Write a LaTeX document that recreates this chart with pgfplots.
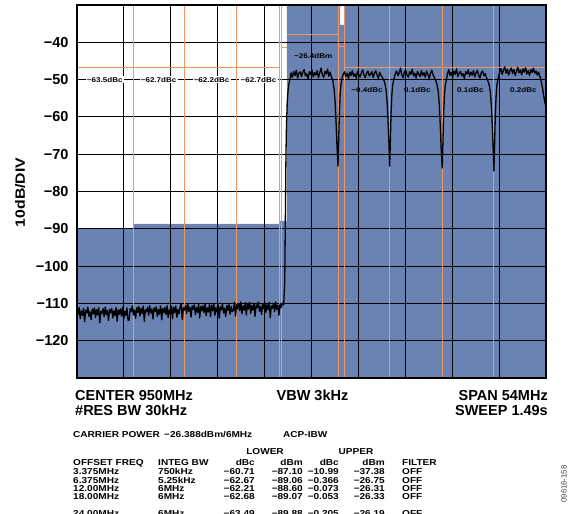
\documentclass[border=0pt]{standalone}
\usepackage{fontspec}
\setmainfont{Liberation Sans}
\newfontfamily\sfont{Liberation Sans}[FakeStretch=1.17]
\usepackage{pgfplots}
\pgfplotsset{compat=1.18}
\definecolor{sablue}{RGB}{107,131,178}
\definecolor{saorange}{RGB}{240,152,100}
\newcommand{\bigf}{\fontsize{14.5}{16}\selectfont\bfseries}
\newcommand{\tabf}{\sfont\fontsize{8.6}{10}\selectfont\bfseries}
\newcommand{\labf}{\sfont\fontsize{6.9}{8}\selectfont\bfseries}
\pgfplotsset{gl/.style={draw=black, line width=1.1pt, forget plot}, ol/.style={draw=saorange, line width=1pt, forget plot}}
\begin{document}
\begin{tikzpicture}
\path (0pt,0pt) rectangle (577pt,513pt);
\begin{axis}[
  at={(77pt,135pt)}, anchor=south west,
  scale only axis, width=469pt, height=373pt,
  xmin=923, xmax=977, ymin=-130, ymax=-30,
  axis on top,
  xtick=\empty,
  ytick={-120,-110,-100,-90,-80,-70,-60,-50,-40},
  yticklabels={−120,−110,−100,−90,−80,−70,−60,−50,−40},
  major tick length=0pt,
  axis line style={black, line width=1.3pt},
  yticklabel style={font=\bigf, xshift=-5pt},
]
% shaded channel power regions
\addplot[fill=sablue, draw=none, forget plot] coordinates {
(923,-131) (923,-89.9) (929.45,-89.9) (929.45,-88.7) (946.4,-88.7) (946.4,-87.9)
(947.15,-87.9) (947.15,-29) (953.3,-29) (953.3,-35.3) (953.8,-35.3) (953.8,-29)
(977.5,-29) (977.5,-131)};
% graticule: vertical divisions (5.4 MHz each)
\addplot[gl] coordinates {(928.4,-130) (928.4,-30)};
\addplot[gl] coordinates {(933.8,-130) (933.8,-30)};
\addplot[gl] coordinates {(939.2,-130) (939.2,-30)};
\addplot[gl] coordinates {(944.6,-130) (944.6,-30)};
\addplot[gl] coordinates {(950.0,-130) (950.0,-30)};
\addplot[gl] coordinates {(955.4,-130) (955.4,-30)};
\addplot[gl] coordinates {(960.8,-130) (960.8,-30)};
\addplot[gl] coordinates {(966.2,-130) (966.2,-30)};
\addplot[gl] coordinates {(971.6,-130) (971.6,-30)};
% graticule: horizontal divisions (10 dB each)
\addplot[gl] coordinates {(923,-40) (977,-40)};
\addplot[gl] coordinates {(923,-50) (977,-50)};
\addplot[gl] coordinates {(923,-60) (977,-60)};
\addplot[gl] coordinates {(923,-70) (977,-70)};
\addplot[gl] coordinates {(923,-80) (977,-80)};
\addplot[gl] coordinates {(923,-90) (977,-90)};
\addplot[gl] coordinates {(923,-100) (977,-100)};
\addplot[gl] coordinates {(923,-110) (977,-110)};
\addplot[gl] coordinates {(923,-120) (977,-120)};
% orange channel borders
\addplot[ol] coordinates {(929.45,-130) (929.45,-30)};
\addplot[ol] coordinates {(935.4,-130) (935.4,-30)};
\addplot[ol] coordinates {(941.4,-130) (941.4,-30)};
\addplot[ol] coordinates {(946.35,-130) (946.35,-30)};
\addplot[ol] coordinates {(946.55,-130) (946.55,-30)};
\addplot[ol] coordinates {(953.1,-130) (953.1,-30)};
\addplot[ol] coordinates {(953.8,-130) (953.8,-30)};
\addplot[ol] coordinates {(959.0,-130) (959.0,-30)};
\addplot[ol] coordinates {(965.05,-130) (965.05,-30)};
\addplot[ol] coordinates {(971.0,-130) (971.0,-30)};
\addplot[ol] coordinates {(923,-46.85) (946.35,-46.85)};
\addplot[ol] coordinates {(946.55,-41.4) (947.15,-41.4)};
\addplot[ol] coordinates {(947.15,-38.0) (953.1,-38.0)};
\addplot[ol] coordinates {(953.1,-41.1) (953.8,-41.1)};
\addplot[ol] coordinates {(953.8,-46.85) (977,-46.85)};
% measured trace
\addplot[black, line width=1.3pt, line join=round] coordinates {
(923.000,-111.4) (923.125,-112.9) (923.250,-111.1) (923.375,-114.1) (923.500,-112.0)
(923.625,-113.2) (923.750,-111.3) (923.875,-114.9) (924.000,-111.8) (924.125,-112.6)
(924.250,-111.0) (924.375,-113.5) (924.500,-112.2) (924.625,-114.4) (924.750,-111.5)
(924.875,-112.8) (925.000,-111.2) (925.125,-113.8) (925.250,-111.7) (925.375,-113.1)
(925.500,-111.1) (925.625,-115.2) (925.750,-112.1) (925.875,-112.7) (926.000,-111.4)
(926.125,-113.6) (926.250,-111.0) (926.375,-113.0) (926.500,-111.9) (926.625,-114.6)
(926.750,-111.6) (926.875,-112.5) (927.000,-111.3) (927.125,-113.9) (927.250,-112.0)
(927.375,-113.3) (927.500,-111.1) (927.625,-114.8) (927.750,-111.7) (927.875,-112.9)
(928.000,-111.5) (928.125,-113.4) (928.250,-111.0) (928.375,-114.2) (928.500,-112.1)
(928.625,-113.2) (928.750,-111.2) (928.875,-114.5)
(929.000,-114.5) (929.125,-111.4) (929.250,-112.2) (929.375,-110.6) (929.500,-113.1)
(929.625,-111.8) (929.750,-114.0) (929.875,-111.1) (930.000,-112.4) (930.125,-110.8)
(930.250,-113.4) (930.375,-111.3) (930.500,-112.7) (930.625,-110.7) (930.750,-114.8)
(930.875,-111.7) (931.000,-112.3) (931.125,-111.0) (931.250,-113.2) (931.375,-110.6)
(931.500,-112.6) (931.625,-111.5) (931.750,-114.2) (931.875,-111.2) (932.000,-112.1)
(932.125,-110.9) (932.250,-113.5) (932.375,-111.6) (932.500,-112.9) (932.625,-110.7)
(932.750,-114.4) (932.875,-111.3) (933.000,-112.5) (933.125,-111.1) (933.250,-113.0)
(933.375,-110.6) (933.500,-113.8) (933.625,-111.7) (933.750,-112.8) (933.875,-110.8)
(934.000,-114.1) (934.125,-111.0) (934.250,-112.5) (934.375,-110.7) (934.500,-113.7)
(934.625,-111.6) (934.750,-112.8) (934.875,-110.9)
(935.000,-110.2) (935.125,-114.3) (935.250,-111.2) (935.375,-111.8) (935.500,-110.5)
(935.625,-112.7) (935.750,-110.1) (935.875,-112.1) (936.000,-111.0) (936.125,-113.7)
(936.250,-110.7) (936.375,-111.6) (936.500,-110.4) (936.625,-113.0) (936.750,-111.1)
(936.875,-112.4) (937.000,-110.2) (937.125,-113.9) (937.250,-110.8) (937.375,-112.0)
(937.500,-110.6) (937.625,-112.5) (937.750,-110.1) (937.875,-113.3) (938.000,-111.2)
(938.125,-112.3) (938.250,-110.3) (938.375,-113.6) (938.500,-110.5) (938.625,-112.0)
(938.750,-110.2) (938.875,-113.2) (939.000,-111.1) (939.125,-112.3) (939.250,-110.4)
(939.375,-114.0) (939.500,-110.9) (939.625,-111.7) (939.750,-110.1) (939.875,-112.6)
(940.000,-111.3) (940.125,-113.5) (940.250,-110.6) (940.375,-111.9) (940.500,-110.3)
(940.625,-112.9) (940.750,-110.8) (940.875,-112.2)
(941.000,-111.9) (941.125,-109.7) (941.250,-113.4) (941.375,-110.3) (941.500,-111.5)
(941.625,-110.1) (941.750,-112.0) (941.875,-109.6) (942.000,-112.8) (942.125,-110.7)
(942.250,-111.8) (942.375,-109.8) (942.500,-113.1) (942.625,-110.0) (942.750,-111.5)
(942.875,-109.7) (943.000,-112.7) (943.125,-110.6) (943.250,-111.8) (943.375,-109.9)
(943.500,-113.5) (943.625,-110.4) (943.750,-111.2) (943.875,-109.6) (944.000,-112.1)
(944.125,-110.8) (944.250,-113.0) (944.375,-110.1) (944.500,-111.4) (944.625,-109.8)
(944.750,-112.4) (944.875,-110.3) (945.000,-111.7) (945.125,-109.7) (945.250,-113.8)
(945.375,-110.7) (945.500,-111.3) (945.625,-110.0) (945.750,-112.2) (945.875,-109.6)
(946.000,-111.6) (946.125,-110.5) (946.250,-113.2) (946.375,-110.2) (946.500,-111.1)
(946.625,-109.9) (946.800,-110.4)
(946.92,-104) (946.97,-92) (947.02,-80) (947.06,-70)
(947.12,-62) (947.20,-56.5) (947.30,-53) (947.42,-50.8) (947.55,-49.6)
(947.65,-48.2) (947.80,-49.4) (947.95,-47.8) (948.10,-48.9) (948.25,-47.5)
(948.40,-49.6) (948.55,-48.3) (948.70,-47.9) (948.85,-49.2) (949.00,-48.0)
(949.15,-47.3) (949.30,-49.0) (949.45,-48.4) (949.60,-49.8) (949.75,-47.9)
(949.90,-48.6) (950.05,-47.4) (950.20,-49.3) (950.35,-48.1) (950.50,-48.8)
(950.65,-47.6) (950.80,-49.5) (950.95,-48.2) (951.10,-46.9) (951.25,-48.7)
(951.40,-49.4) (951.55,-47.8) (951.70,-48.5) (951.85,-47.2) (952.00,-49.1)
(952.15,-48.0) (952.30,-49.3) (952.45,-50.2)
(952.60,-52.5) (952.72,-56) (952.82,-61) (952.92,-67) (953.05,-73.2)
(953.13,-66) (953.21,-59) (953.30,-54) (953.40,-51.2) (953.52,-49.6)
(953.65,-48.6) (953.80,-47.9) (953.95,-49.2) (954.10,-48.3) (954.25,-49.7)
(954.40,-48.0) (954.55,-48.9) (954.70,-47.6) (954.85,-49.1) (955.00,-48.4)
(955.15,-49.6) (955.30,-47.8) (955.45,-48.7) (955.60,-49.3) (955.75,-48.1)
(955.90,-47.4) (956.05,-48.9) (956.20,-49.5) (956.35,-48.2) (956.50,-47.7)
(956.65,-49.0) (956.80,-48.5) (956.95,-47.9) (957.10,-49.4) (957.25,-48.3)
(957.40,-47.6) (957.55,-48.8) (957.70,-49.7) (957.85,-48.0) (958.00,-48.9)
(958.15,-49.4) (958.30,-50.0) (958.45,-51.0)
(958.60,-53) (958.72,-56.5) (958.82,-61.5) (958.92,-67.5) (959.00,-73.2)
(959.08,-66.5) (959.16,-59) (959.25,-54.2) (959.35,-51.3) (959.50,-49.8)
(959.65,-48.4) (959.80,-47.7) (959.95,-49.0) (960.10,-48.2) (960.25,-46.9)
(960.40,-48.7) (960.55,-49.5) (960.70,-48.0) (960.85,-47.5) (961.00,-48.8)
(961.15,-49.3) (961.30,-47.9) (961.45,-48.6) (961.60,-47.2) (961.75,-49.0)
(961.90,-48.3) (962.05,-49.6) (962.20,-47.8) (962.35,-48.5) (962.50,-49.2)
(962.65,-47.6) (962.80,-48.9) (962.95,-48.1) (963.10,-49.4) (963.25,-47.7)
(963.40,-48.6) (963.55,-49.8) (963.70,-48.2) (963.85,-47.5) (964.00,-48.8)
(964.15,-49.5) (964.30,-50.2) (964.45,-51.3)
(964.60,-53.3) (964.72,-57) (964.82,-62) (964.92,-68) (965.05,-73.7)
(965.13,-67) (965.21,-59.5) (965.30,-54.5) (965.40,-51.5) (965.55,-49.9)
(965.65,-48.5) (965.80,-47.3) (965.95,-48.9) (966.10,-48.1) (966.25,-49.4)
(966.40,-47.7) (966.55,-48.6) (966.70,-47.1) (966.85,-49.2) (967.00,-48.3)
(967.15,-47.8) (967.30,-49.0) (967.45,-48.4) (967.60,-49.7) (967.75,-47.9)
(967.90,-48.5) (968.05,-47.4) (968.20,-49.1) (968.35,-48.0) (968.50,-48.8)
(968.65,-47.6) (968.80,-49.3) (968.95,-48.2) (969.10,-47.5) (969.25,-48.9)
(969.40,-49.6) (969.55,-48.1) (969.70,-47.7) (969.85,-49.0) (970.00,-48.4)
(970.15,-49.5) (970.30,-50.3) (970.45,-51.4)
(970.60,-53.5) (970.72,-57.5) (970.82,-62.5) (970.92,-68.5) (971.00,-74.5)
(971.08,-67.5) (971.16,-60) (971.25,-54.6) (971.35,-51.4) (971.50,-49.7)
(971.65,-48.1) (971.80,-47.0) (971.95,-48.6) (972.10,-47.5) (972.25,-46.6)
(972.40,-48.3) (972.55,-47.2) (972.70,-48.8) (972.85,-47.6) (973.00,-46.9)
(973.15,-48.4) (973.30,-47.3) (973.45,-48.9) (973.60,-47.8) (973.75,-46.7)
(973.90,-48.2) (974.05,-47.4) (974.20,-48.7) (974.35,-47.1) (974.50,-48.0)
(974.65,-46.8) (974.80,-48.5) (974.95,-47.6) (975.10,-48.9) (975.25,-47.3)
(975.40,-48.1) (975.55,-46.9) (975.70,-48.3) (975.85,-47.7) (976.00,-48.8)
(976.15,-48.0) (976.30,-49.2) (976.45,-50.5) (976.60,-52.3) (976.75,-54.5)
(976.90,-56.5) (977.00,-57.5)};
% channel labels
\node[fill=white, inner sep=1.2pt, font=\labf] at (axis cs:926.2,-50) {−63.5dBc};
\node[fill=white, inner sep=1.2pt, font=\labf] at (axis cs:932.4,-50) {−62.7dBc};
\node[fill=white, inner sep=1.2pt, font=\labf] at (axis cs:938.5,-50) {−62.2dBc};
\node[fill=white, inner sep=1.2pt, font=\labf] at (axis cs:943.9,-50) {−62.7dBc};
\node[font=\labf] at (axis cs:950.2,-43.8) {−26.4dBm};
\node[font=\labf] at (axis cs:956.4,-52.8) {−0.4dBc};
\node[font=\labf] at (axis cs:962.2,-52.8) {0.1dBc};
\node[font=\labf] at (axis cs:968.3,-52.8) {0.1dBc};
\node[font=\labf] at (axis cs:974.4,-52.8) {0.2dBc};
\end{axis}
\begin{scope}[overlay]
% y label
\node[rotate=90, font=\sfont\fontsize{13.5}{14}\selectfont\bfseries] at (20pt,320.5pt) {10dB/DIV};
% settings below the plot
\node[anchor=base west, font=\bigf, inner sep=0] at (75pt,112pt) {CENTER 950MHz};
\node[anchor=base west, font=\bigf, inner sep=0] at (75pt,97pt) {\#RES BW 30kHz};
\node[anchor=base, font=\bigf, inner sep=0] at (312.5pt,112pt) {VBW 3kHz};
\node[anchor=base east, font=\bigf, inner sep=0] at (548pt,112pt) {SPAN 54MHz};
\node[anchor=base east, font=\bigf, inner sep=0] at (548pt,97pt) {SWEEP 1.49s};
\node[anchor=base west, font=\tabf, inner sep=0] at (73pt,75pt) {CARRIER POWER};
\node[anchor=base west, font=\tabf, inner sep=0] at (164pt,75pt) {−26.388dBm/6MHz};
\node[anchor=base west, font=\tabf, inner sep=0] at (283pt,75pt) {ACP-IBW};
\node[anchor=base, font=\tabf, inner sep=0] at (265pt,58pt) {LOWER};
\node[anchor=base, font=\tabf, inner sep=0] at (356pt,58pt) {UPPER};
\node[anchor=base west, font=\tabf, inner sep=0] at (73pt,47pt) {OFFSET FREQ};
\node[anchor=base west, font=\tabf, inner sep=0] at (158pt,47pt) {INTEG BW};
\node[anchor=base east, font=\tabf, inner sep=0] at (255pt,47pt) {dBc};
\node[anchor=base east, font=\tabf, inner sep=0] at (303pt,47pt) {dBm};
\node[anchor=base east, font=\tabf, inner sep=0] at (339pt,47pt) {dBc};
\node[anchor=base east, font=\tabf, inner sep=0] at (385pt,47pt) {dBm};
\node[anchor=base west, font=\tabf, inner sep=0] at (402pt,47pt) {FILTER};
\foreach \y/\a/\b/\c/\d/\e/\f in {
  38/3.375MHz/750kHz/−60.71/−87.10/−10.99/−37.38,
  29.7/6.375MHz/5.25kHz/−62.67/−89.06/−0.366/−26.75,
  21.4/12.00MHz/6MHz/−62.21/−88.60/−0.073/−26.31,
  13.1/18.00MHz/6MHz/−62.68/−89.07/−0.053/−26.33,
  -3.5/24.00MHz/6MHz/−63.49/−89.88/−0.205/−26.19}{
  \node[anchor=base west, font=\tabf, inner sep=0] at (73pt,\y pt) {\a};
  \node[anchor=base west, font=\tabf, inner sep=0] at (158pt,\y pt) {\b};
  \node[anchor=base east, font=\tabf, inner sep=0] at (255pt,\y pt) {\c};
  \node[anchor=base east, font=\tabf, inner sep=0] at (303pt,\y pt) {\d};
  \node[anchor=base east, font=\tabf, inner sep=0] at (339pt,\y pt) {\e};
  \node[anchor=base east, font=\tabf, inner sep=0] at (385pt,\y pt) {\f};
  \node[anchor=base west, font=\tabf, inner sep=0] at (402pt,\y pt) {OFF};
}
\node[rotate=90, font=\fontsize{7.7}{8}\selectfont, text=black!75] at (564pt,29pt) {09616-158};
\end{scope}
\end{tikzpicture}
\end{document}
